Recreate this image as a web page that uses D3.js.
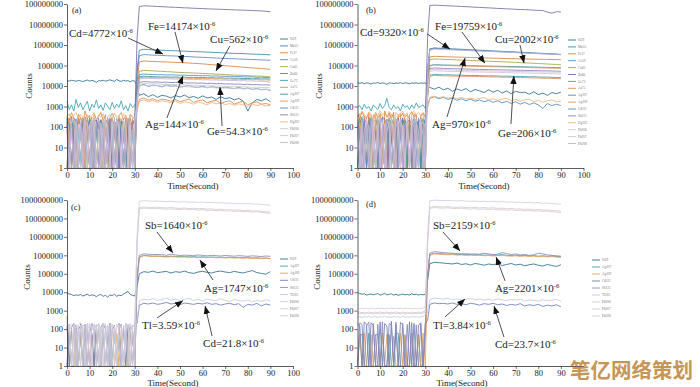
<!DOCTYPE html>
<html>
<head>
<meta charset="utf-8">
<script src="https://cdn.jsdelivr.net/npm/d3@7"></script>
<style>
  body { margin: 0; background: #fff; }
  svg { display: block; }
</style>
</head>
<body>
<div id="chart"></div>
<script>
// sampling times: 1 s during the gas blank, 2 s during ablation
const timeBg = [0,1,2,3,4,5,6,7,8,9,10,11,12,13,14,15,16,17,18,19,20,21,22,23,24,25,26,27,28,29,30];
const timeAb = [31,32,34,36,38,40,42,44,46,48,50,52,54,56,58,60,62,64,66,68,70,72,74,76,78,80,82,84,86,88,90];

const xTicks = [0,10,20,30,40,50,60,70,80,90,100];
const xTicksD = [0,10,20,30,40,50,60,70,80,90];   // "100" is hidden under the watermark in (d)
const yTicksAB = [1,10,100,1000,10000,100000,1000000,10000000,100000000];
const yTicksCD = [1,10,100,1000,10000,100000,1000000,10000000,100000000,1000000000];

const namesAB = ['Si29','Mn55','Fe57','Co59','Cu65','Zn66','Ge72','As75','Ag107','Ag109','Cd111','Sb121','Hg202','Pb206','Pb207','Pb208'];
const namesCD = ['Si29','Ag107','Ag109','Cd111','Sb121','Tl205','Pb206','Pb207','Pb208'];

const colorsAB = ['#2d6f8c','#3d86a6','#d8803f','#4f8fc4','#a3a640','#7a69a6','#3ea1b1','#e08a4c','#3a98a4','#e39a58','#5a88c0','#8a7cb8','#f0b27a','#c9c9d1','#d9bfd6','#bdb6d8'];
const colorsCD = ['#2d6f8c','#3aa3ad','#e8a05a','#6d7db8','#8c86b9','#c5cbd9','#dcc6cc','#d0d0d6','#d4cbe0'];

// panel (a): counts, gas blank
const bgA = [
  [18000,17500,19000,18200,17000,18500,17800,16500,18000,19500,17200,18800,17500,15000,18200,17800,19000,17200,18500,20000,18200,17000,21000,18000,16800,19000,17500,18200,16000,18500,17200],
  [180,1,240,60,1,300,110,1,1,200,90,1,260,1,150,40,1,220,1,130,280,1,70,1,190,1,240,100,1,160,210],
  [90,260,1,140,30,1,200,1,310,80,1,1,170,230,1,60,1,250,120,1,1,210,1,150,50,260,1,90,1,230,140],
  [1,150,320,1,80,210,1,130,1,1,240,160,1,90,270,1,180,1,60,1,230,140,1,280,1,70,1,200,1,120,250],
  [250,80,1,190,1,120,260,1,70,1,180,300,1,1,140,220,1,100,1,270,1,160,60,1,210,1,150,1,280,90,1],
  [130,1,1,270,150,1,90,220,1,160,1,60,1,240,1,190,120,1,280,50,1,1,170,230,1,100,1,260,140,1,190],
  [1800,700,1200,600,2200,900,1500,700,1100,1800,600,1300,900,2100,800,1200,650,1500,1000,700,1600,800,1300,900,1900,700,1100,600,1400,900,1100],
  [350,200,500,280,1,420,300,150,600,250,380,1,450,220,330,520,180,400,1,300,460,260,1,350,500,220,380,150,420,300,250],
  [300,1,160,1,220,90,1,280,1,130,1,200,1,60,190,1,1,240,150,1,90,1,260,1,130,200,1,60,250,1,110],
  [1,220,90,1,1,170,300,1,140,240,1,1,90,1,210,130,1,1,190,1,250,80,1,160,1,1,220,140,1,260,1],
  [200,120,1,60,250,1,1,190,1,100,270,1,140,1,1,230,60,1,200,1,120,1,180,1,240,1,130,1,170,40,1],
  [70,1,230,1,130,1,190,60,1,280,1,150,1,210,100,1,160,1,1,240,1,120,200,1,80,1,270,1,110,180,1],
  [300,450,200,380,500,260,420,320,1,400,280,350,500,220,380,300,450,1,330,400,250,480,300,360,200,420,340,1,380,300,260],
  [1,1,180,250,1,140,1,60,200,1,130,1,290,1,80,1,200,160,1,1,140,1,230,90,1,170,1,1,200,1,270],
  [150,1,90,1,210,1,240,1,110,170,1,230,70,1,1,160,1,260,80,1,200,1,1,140,1,220,90,1,130,1,180],
  [240,60,1,1,160,1,120,1,260,1,1,190,1,150,230,1,90,1,140,1,1,260,1,190,120,1,160,240,1,80,1]
];
// panel (a): counts, ablation
const abA = [
  [9000,3500,4200,3000,3800,2800,3500,3200,2600,3400,2900,3600,2700,3100,2500,3300,2600,2900,2200,3000,2400,2700,2100,2500,1800,600,1500,2200,1900,2400,1700],
  [60000,550000,620000,600000,580000,570000,560000,540000,530000,525000,510000,500000,490000,480000,470000,460000,450000,440000,430000,420000,410000,400000,390000,385000,380000,370000,360000,355000,350000,340000,330000],
  [15000,150000,165000,160000,158000,155000,150000,148000,145000,142000,140000,136000,132000,128000,124000,120000,115000,110000,106000,102000,98000,94000,90000,86000,82000,80000,76000,74000,71000,68000,65000],
  [3000,36000,38000,37000,36500,35500,36000,34500,35000,34000,33500,34000,32500,33000,32000,31500,32000,30500,31000,30000,29500,30000,28500,29000,28000,27500,28000,26500,27000,26000,25500],
  [5000,52000,58000,56000,55000,53000,52000,50000,49000,47000,46000,45000,44000,43000,42000,41000,40000,39000,38000,37000,36000,35000,34000,33500,33000,32000,31000,30500,30000,29000,28000],
  [2e6,7.5e7,8.2e7,8.0e7,7.8e7,7.6e7,7.4e7,7.2e7,7.0e7,6.9e7,6.7e7,6.5e7,6.4e7,6.2e7,6.1e7,6.0e7,5.8e7,5.7e7,5.6e7,5.5e7,5.4e7,5.3e7,5.2e7,5.1e7,5.0e7,4.9e7,4.8e7,4.7e7,4.6e7,4.4e7,4.2e7],
  [3000,10000,12000,9500,11000,10500,9000,11500,9800,10200,8800,9600,10800,9000,8500,9800,8200,9200,8600,7800,9000,8000,7500,8600,7200,8000,6800,7600,6500,7000,6000],
  [800,2200,2600,2000,2400,1900,2300,2100,1800,2200,1700,2000,2300,1600,1900,2100,1500,1800,2000,1400,1700,1900,1300,1600,1800,1200,1500,1700,1300,1400,1200],
  [3000,28000,30000,29000,28500,28000,27500,28000,27000,27500,26500,27000,26000,26500,25500,26000,25000,25500,24500,25000,24000,24500,23500,24000,23000,23500,22500,23000,22000,22500,21500],
  [2800,25000,27000,26500,26000,25500,25000,25500,24500,25000,24000,24500,23500,24000,23000,23500,22500,23000,22000,22500,21500,22000,21000,21500,20500,21000,20000,20500,19500,20000,19000],
  [40000,300000,340000,330000,320000,315000,310000,300000,295000,290000,280000,275000,270000,262000,255000,250000,245000,238000,232000,226000,220000,216000,212000,208000,204000,200000,196000,192000,188000,184000,180000],
  [1500,15000,16500,16000,15500,15800,15000,15400,14600,15000,14200,14600,13800,14200,13600,13900,13200,13500,12800,13200,12500,12800,12200,12500,11800,12200,11500,11800,11200,11500,11000],
  [600,1800,2100,1700,2000,1600,1900,1750,1500,1850,1400,1700,1550,1300,1650,1450,1200,1600,1350,1500,1250,1400,1150,1350,1200,1000,1300,1100,1250,1050,1150],
  [1500,12000,13500,13000,12500,12800,12000,12300,11600,11900,11200,11500,10800,11100,10500,10800,10200,10400,9800,10100,9500,9800,9200,9400,8900,9100,8600,8800,8400,8500,8100],
  [1200,10000,11000,10600,10300,10500,9900,10100,9500,9800,9200,9400,8900,9100,8600,8800,8300,8500,8000,8200,7800,7900,7500,7700,7300,7400,7100,7200,6900,7000,6700],
  [2500,22000,24000,23500,23000,22500,22800,22000,22300,21500,21800,21000,21200,20500,20800,20000,20200,19500,19800,19000,19200,18500,18700,18000,18200,17500,17700,17000,17200,16500,15000]
];

// panel (b)
const bgB = [
  [14000,13500,14500,13000,14200,13800,12500,14000,13600,14800,13200,14100,13500,12000,14300,13700,13000,14000,13400,14600,13100,14200,13800,12800,14000,13500,14400,13300,14100,13600,14200],
  [90,260,1,140,30,1,200,1,310,80,1,1,170,230,1,60,1,250,120,1,1,210,1,150,50,260,1,90,1,230,140],
  [400,250,550,300,1,450,350,200,500,280,400,1,600,300,450,250,520,1,380,300,480,220,1,400,550,300,420,1,350,480,300],
  [1,170,120,1,290,1,1,150,1,220,60,1,180,1,1,270,130,1,1,170,1,230,1,100,1,180,1,60,230,1,140],
  [1,220,90,1,1,170,300,1,140,240,1,1,90,1,210,130,1,1,190,1,250,80,1,160,1,1,220,140,1,260,1],
  [180,1,240,60,1,300,110,1,1,200,90,1,260,1,150,40,1,220,1,130,280,1,70,1,190,1,240,100,1,160,210],
  [900,1100,700,1300,800,1000,600,1200,900,700,1400,800,1100,2500,900,700,1200,800,1000,600,1300,900,1100,700,1200,800,1500,900,1000,1200,800],
  [60,200,1,110,1,260,1,170,230,1,50,1,200,140,1,300,1,80,1,220,160,1,1,120,270,1,180,1,70,1,150],
  [1,150,320,1,80,210,1,130,1,1,240,160,1,90,270,1,180,1,60,1,230,140,1,280,1,70,1,200,1,120,250],
  [300,450,1,350,250,500,1,400,300,1,450,350,200,1,500,300,400,1,350,450,1,300,400,250,1,450,300,1,380,500,1],
  [250,80,1,190,1,120,260,1,70,1,180,300,1,1,140,220,1,100,1,270,1,160,60,1,210,1,150,1,280,90,1],
  [130,1,1,270,150,1,90,220,1,160,1,60,1,240,1,190,120,1,280,50,1,1,170,230,1,100,1,260,140,1,190],
  [500,380,600,420,300,550,450,1,500,350,620,400,480,300,560,420,1,520,380,460,600,340,500,1,450,580,400,520,360,480,420],
  [300,1,160,1,220,90,1,280,1,130,1,200,1,60,190,1,1,240,150,1,90,1,260,1,130,200,1,60,250,1,110],
  [200,120,1,60,250,1,1,190,1,100,270,1,140,1,1,230,60,1,200,1,120,1,180,1,240,1,130,1,170,40,1],
  [70,1,230,1,130,1,190,60,1,280,1,150,1,210,100,1,160,1,1,240,1,120,200,1,80,1,270,1,110,180,1]
];
const abB = [
  [10000,8500,7000,8800,6500,7800,5500,7200,6000,7500,5200,6800,5800,4800,6500,5000,6200,4500,5800,4200,5500,4800,5000,4000,5200,3800,4500,3500,4800,4200,5000],
  [60000,650000,720000,700000,680000,665000,650000,635000,620000,605000,590000,575000,560000,545000,530000,515000,500000,490000,480000,470000,455000,445000,435000,425000,410000,400000,390000,380000,370000,360000,350000],
  [30000,260000,280000,275000,270000,265000,262000,258000,255000,250000,246000,242000,238000,235000,232000,228000,225000,222000,219000,216000,213000,210000,208000,206000,204000,202000,200000,198000,196000,194000,192000],
  [1000,2500,3000,2400,2800,2200,2600,2000,2400,1900,2300,1800,2100,1700,2000,1600,1900,1500,1800,1400,1700,1300,1600,1250,1500,1200,800,1400,1100,1300,1100],
  [20000,190000,210000,205000,200000,196000,192000,188000,184000,180000,176000,172000,168000,165000,162000,158000,155000,152000,148000,145000,142000,138000,135000,132000,128000,125000,122000,118000,115000,112000,108000],
  [2e6,8.5e7,8.8e7,8.6e7,8.4e7,8.2e7,8.0e7,7.8e7,7.6e7,7.4e7,7.2e7,7.0e7,6.8e7,6.6e7,6.5e7,6.3e7,6.1e7,6.0e7,5.8e7,5.7e7,5.5e7,5.4e7,5.3e7,5.2e7,5.0e7,4.9e7,4.8e7,4.0e7,3.6e7,4.2e7,4.1e7],
  [3000,34000,37000,36000,35000,35500,34500,34000,33500,33000,32500,33000,32000,31500,31000,31500,30500,30000,30500,29500,29000,29500,28500,28000,28500,27500,27000,27500,26500,26000,25500],
  [2800,30000,33000,32000,31500,31000,30500,30800,30000,29500,29800,29000,28500,28800,28000,27500,27800,27000,26500,26800,26000,25500,25800,25000,24500,24800,24000,23500,23800,23000,22500],
  [12000,100000,110000,108000,106000,105000,104000,102000,101000,100000,99000,97000,96000,95000,94000,93000,92000,91000,90000,89000,88000,87000,86000,85000,84000,83000,82000,81000,80000,79000,78000],
  [11000,95000,104000,102000,100000,99000,98000,96000,95000,94000,93000,91000,90000,89000,88000,87000,86000,85000,84000,83000,82000,81000,80000,79000,78000,77000,76000,75000,74000,73000,72000],
  [55000,600000,680000,660000,650000,630000,615000,600000,585000,570000,555000,540000,525000,512000,500000,488000,476000,465000,455000,445000,435000,425000,415000,405000,395000,386000,378000,370000,362000,355000,340000],
  [7000,70000,76000,74000,72000,71000,70000,69000,68000,67000,66000,65000,64500,64000,63000,62500,62000,61000,60500,60000,59000,58500,58000,57000,56500,56000,55000,54500,54000,53000,52000],
  [800,2800,3200,2700,3000,2500,2900,2400,2800,2300,2600,2200,2500,2700,2100,2400,2000,2300,2500,1900,2200,1800,2100,2300,1700,2000,1600,1900,2100,1700,1800],
  [6000,60000,65000,63000,62000,61000,60000,59000,58500,58000,57000,56500,56000,55000,54500,54000,53500,53000,52500,52000,51500,51000,50500,50000,49500,49000,48500,48000,47500,47000,46500],
  [5000,52000,56000,54000,53000,52000,51500,51000,50000,49500,49000,48500,48000,47500,47000,46500,46000,45500,45000,44500,44000,43500,43000,42500,42000,41500,41000,40500,40000,39500,39000],
  [50000,560000,620000,610000,600000,590000,575000,560000,550000,540000,525000,515000,505000,495000,485000,475000,465000,455000,445000,435000,425000,415000,405000,395000,390000,380000,370000,360000,355000,345000,335000]
];

// panel (c)
const bgC = [
  [9000,8000,7500,6500,7200,6800,7500,6200,7000,7800,6500,7200,6800,5800,7000,7500,6000,6800,5500,7200,6500,7800,6000,7000,6500,8000,9500,11000,7500,6800,6200],
  [1,60,1,1,80,1,40,1,90,1,1,50,1,70,1,1,100,1,40,1,1,80,1,60,1,1,90,1,1,50,1],
  [500,1,80,1,120,1,60,1,1,100,1,40,1,90,1,1,70,1,1,120,1,1,60,1,90,1,1,100,1,60,1],
  [150,1,120,200,1,90,150,1,180,1,130,60,1,170,1,120,200,1,140,1,90,160,1,200,1,130,1,170,80,1,200],
  [1,180,1,100,160,1,200,80,1,150,1,200,120,1,160,1,90,170,1,210,1,140,1,120,180,1,200,1,150,90,1],
  [120,150,1,200,130,100,1,170,140,1,200,90,150,1,180,120,1,160,100,1,190,130,1,150,110,1,180,140,1,170,120],
  [200,80,150,1,180,120,160,1,140,190,1,150,100,170,1,130,190,1,120,160,140,1,180,100,1,160,120,190,1,140,180],
  [100,170,1,140,90,1,150,120,1,180,100,1,160,130,1,110,150,1,170,90,1,140,1,160,120,1,150,1,180,110,1],
  [250,120,200,150,1,180,220,130,1,200,160,1,190,120,210,1,170,200,1,150,180,120,1,210,160,1,190,130,200,1,170]
];
const abC = [
  [20000,100000,130000,120000,140000,115000,125000,135000,110000,130000,120000,140000,115000,105000,125000,135000,120000,110000,130000,140000,125000,115000,135000,120000,110000,130000,150000,115000,105000,95000,130000],
  [50000,800000,1000000,950000,900000,920000,880000,850000,900000,870000,840000,860000,820000,850000,800000,830000,790000,810000,780000,800000,760000,790000,750000,770000,740000,760000,720000,740000,700000,720000,680000],
  [45000,750000,950000,900000,860000,880000,840000,810000,850000,820000,800000,820000,780000,800000,760000,790000,750000,770000,740000,760000,720000,750000,710000,730000,700000,720000,680000,700000,660000,680000,640000],
  [200,2000,2500,2300,2600,2200,2400,2800,2300,2500,2100,2600,2400,2200,2500,2300,2700,2200,2400,2000,2300,2500,2100,2400,1500,2200,2000,2500,1800,2300,2000],
  [60000,1.0e6,1.2e6,1.15e6,1.1e6,1.12e6,1.08e6,1.0e6,1.15e6,1.05e6,9.8e5,1.02e6,1.0e6,9.6e5,1.05e6,9.9e5,9.4e5,1.0e6,9.6e5,9.2e5,9.8e5,9.4e5,9.0e5,9.6e5,9.2e5,8.8e5,9.4e5,9.0e5,8.6e5,9.2e5,8.8e5],
  [250,3500,4200,3800,4500,3600,4000,4800,3700,4300,3500,4100,4600,3600,4000,3400,4200,3800,3500,4400,3600,3200,4000,3500,3300,3800,3000,3600,3200,3900,3400],
  [5e6,3.8e8,4.2e8,4.0e8,3.9e8,4.1e8,3.8e8,3.7e8,3.9e8,3.6e8,3.5e8,3.7e8,3.4e8,3.6e8,3.3e8,3.5e8,3.2e8,3.3e8,3.0e8,3.2e8,2.9e8,3.0e8,2.8e8,2.9e8,2.6e8,2.8e8,2.5e8,2.6e8,2.4e8,2.3e8,2.2e8],
  [4e6,3.3e8,3.6e8,3.5e8,3.4e8,3.5e8,3.3e8,3.2e8,3.3e8,3.1e8,3.0e8,3.2e8,2.9e8,3.1e8,2.8e8,3.0e8,2.7e8,2.8e8,2.6e8,2.7e8,2.5e8,2.6e8,2.4e8,2.5e8,2.3e8,2.4e8,2.2e8,2.3e8,2.1e8,2.0e8,1.9e8],
  [1e7,8.5e8,9.0e8,8.8e8,8.6e8,8.8e8,8.4e8,8.2e8,8.5e8,8.0e8,7.8e8,8.1e8,7.6e8,7.9e8,7.4e8,7.7e8,7.2e8,7.4e8,6.9e8,7.2e8,6.7e8,6.9e8,6.4e8,6.6e8,6.2e8,6.4e8,6.0e8,6.1e8,5.7e8,5.5e8,5.2e8]
];

// panel (d)
const bgD = [
  [9500,8500,7800,8200,7000,7600,8000,7200,7800,8400,7000,7500,8800,7200,7600,8200,7000,7800,6800,7400,8000,7200,7600,7000,8200,7400,7800,7000,7600,7200,7800],
  [1,50,50,1,1,60,1,1,50,50,1,60,1,1,50,1,1,60,60,1,1,50,1,1,60,1,1,50,1,1,40],
  [1,40,1,60,1,1,50,1,40,1,1,60,1,50,1,1,40,1,1,60,1,40,1,1,50,1,1,40,1,60,1],
  [200,150,1,250,180,1,220,160,1,1,240,1,200,150,1,260,1,180,1,230,170,1,1,250,1,200,1,160,220,1,200],
  [1,220,180,1,150,240,1,200,1,180,1,250,1,1,200,160,1,240,1,1,210,1,180,1,230,1,170,1,200,1,180],
  [450,480,420,470,440,500,430,460,480,420,470,450,500,440,460,430,480,450,470,420,490,440,460,430,480,450,470,440,460,500,600],
  [800,850,780,820,760,840,800,770,830,790,860,780,810,840,770,820,790,850,800,780,830,790,820,760,840,800,780,830,790,860,1000],
  [700,680,720,660,710,690,730,670,700,720,680,710,690,740,670,700,720,680,710,690,730,670,700,720,680,710,690,720,700,740,850],
  [1300,1250,1350,1280,1320,1260,1380,1300,1270,1340,1290,1350,1260,1320,1300,1370,1280,1330,1290,1350,1270,1310,1360,1280,1320,1300,1340,1270,1330,1380,1600]
];
const abD = [
  [40000,350000,420000,400000,380000,360000,340000,380000,320000,350000,300000,360000,330000,290000,340000,310000,350000,280000,320000,360000,300000,330000,270000,310000,340000,290000,260000,320000,280000,250000,310000],
  [80000,1.1e6,1.3e6,1.25e6,1.2e6,1.15e6,1.18e6,1.1e6,1.12e6,1.08e6,1.1e6,1.05e6,1.08e6,1.02e6,1.05e6,1.0e6,1.03e6,1.1e6,1.0e6,9.8e5,1.02e6,9.5e5,1.0e6,9.3e5,9.7e5,9.0e5,9.5e5,8.8e5,9.2e5,8.6e5,8.4e5],
  [75000,1.0e6,1.2e6,1.15e6,1.1e6,1.08e6,1.1e6,1.03e6,1.05e6,1.0e6,1.02e6,9.8e5,1.0e6,9.5e5,9.8e5,9.3e5,9.6e5,1.0e6,9.3e5,9.0e5,9.4e5,8.8e5,9.2e5,8.6e5,9.0e5,8.4e5,8.8e5,8.2e5,8.6e5,8.0e5,7.8e5],
  [300,2200,2600,2400,2500,2300,2600,2200,2400,2100,2500,2300,2000,2400,2200,2500,2100,2300,1900,2200,2000,2400,1800,2100,1900,2200,1700,2000,1800,2100,1600],
  [90000,1.3e6,1.6e6,1.5e6,1.4e6,1.35e6,1.3e6,1.25e6,1.2e6,1.22e6,1.18e6,1.2e6,1.15e6,1.3e6,1.2e6,1.1e6,1.15e6,1.4e6,1.25e6,1.1e6,1.2e6,1.05e6,1.1e6,1.0e6,1.08e6,1.3e6,1.2e6,1.05e6,1.0e6,9.5e5,9.0e5],
  [800,4000,4800,4500,4200,4600,4000,4400,3800,4200,4600,3900,4300,3700,4100,3600,4400,3800,3500,4000,3700,4200,3400,3800,3600,3300,3900,3500,3700,4100,3200],
  [5e6,4.0e8,4.5e8,4.3e8,4.2e8,4.4e8,4.1e8,4.0e8,4.2e8,3.9e8,3.8e8,4.0e8,3.7e8,3.9e8,3.6e8,3.8e8,3.5e8,3.6e8,3.3e8,3.5e8,3.2e8,3.3e8,3.1e8,3.2e8,2.9e8,3.1e8,2.8e8,2.9e8,2.7e8,2.6e8,2.5e8],
  [4e6,3.5e8,3.9e8,3.7e8,3.6e8,3.8e8,3.5e8,3.4e8,3.6e8,3.3e8,3.2e8,3.4e8,3.1e8,3.3e8,3.0e8,3.2e8,2.9e8,3.0e8,2.8e8,2.9e8,2.7e8,2.8e8,2.6e8,2.7e8,2.5e8,2.6e8,2.4e8,2.5e8,2.3e8,2.2e8,2.1e8],
  [1e7,9.0e8,9.8e8,9.5e8,9.3e8,9.5e8,9.1e8,8.9e8,9.2e8,8.7e8,8.5e8,8.8e8,8.3e8,8.6e8,8.1e8,8.4e8,7.9e8,8.2e8,7.6e8,7.9e8,7.4e8,7.7e8,7.2e8,7.4e8,6.9e8,7.2e8,6.6e8,6.9e8,6.4e8,6.2e8,5.8e8]
];

// annotations in data space: text anchor, arrow start, arrow tip
const notesA = [
  { label: 'Cd=4772', at: [0.9, 2.45e6], from: [27, 2.2e6], to: [42.5, 3.6e5] },
  { label: 'Fe=14174', at: [35.8, 5.4e6], from: [47.8, 4.3e6], to: [51.3, 1.3e5] },
  { label: 'Cu=562', at: [63.3, 1.3e6], from: [72.1, 9e5], to: [65.9, 5.4e4] },
  { label: 'Ag=144', at: [34.5, 90], from: [44.2, 275], to: [51.3, 3.1e4] },
  { label: 'Ge=54.3', at: [61.9, 42], from: [68.6, 112], to: [67.7, 8.9e3] }
];
const notesB = [
  { label: 'Cd=9320', at: [1.1, 2.75e6], from: [30.8, 3.5e6], to: [40.9, 6.3e5] },
  { label: 'Fe=19759', at: [34.3, 5.4e6], from: [46.2, 4.3e6], to: [56.4, 1.3e5] },
  { label: 'Cu=2002', at: [60.8, 1.3e6], from: [71.9, 1e6], to: [73.7, 1.3e5] },
  { label: 'Ag=970', at: [33, 85], from: [39.6, 310], to: [47.6, 2.3e5] },
  { label: 'Ge=206', at: [62.2, 34], from: [67.9, 140], to: [69.2, 3.1e4] }
];
const notesC = [
  { label: 'Sb=1640', at: [34.5, 2.7e7], from: [39.8, 1.85e7], to: [46.9, 1.35e6] },
  { label: 'Ag=1747', at: [60.6, 1.0e4], from: [64.6, 4.6e4], to: [58.8, 5.6e5] },
  { label: 'Tl=3.59', at: [33.2, 100], from: [39.8, 400], to: [51.3, 3500] },
  { label: 'Cd=21.8', at: [60.2, 10.7], from: [64.2, 42], to: [61.1, 1800] }
];
const notesD = [
  { label: 'Sb=2159', at: [33.4, 2.7e7], from: [37.8, 1.85e7], to: [45.4, 1.7e6] },
  { label: 'Ag=2201', at: [60.8, 1.0e4], from: [65.3, 4.1e4], to: [61.3, 8.1e5] },
  { label: 'Tl=3.84', at: [33.4, 100], from: [38.7, 455], to: [47.6, 4.3e3] },
  { label: 'Cd=23.7', at: [60.8, 9.5], from: [64.8, 37], to: [60.4, 1.8e3] }
];

const W = 700, H = 387;
const SERIF = '"Liberation Serif", "Times New Roman", serif';

const svg = d3.select('#chart')
  .append('svg')
  .attr('width', W)
  .attr('height', H)
  .attr('viewBox', `0 0 ${W} ${H}`);

svg.append('defs').append('marker')
  .attr('id', 'arrow')
  .attr('viewBox', '0 0 10 10')
  .attr('refX', 10)
  .attr('refY', 5)
  .attr('markerWidth', 8)
  .attr('markerHeight', 8)
  .attr('markerUnits', 'userSpaceOnUse')
  .attr('orient', 'auto')
  .append('path')
  .attr('d', 'M0,1 L10,5 L0,9 z')
  .attr('fill', '#111');

const panels = [
  { tag: '(a)', xRange: [67, 293], yRange: [168, 4], xTicks: xTicks, yTicks: yTicksAB, names: namesAB, colors: colorsAB,
    bg: bgA, ab: abA, notes: notesA, legend: [280, 39, 6.9], counts: [32, 86], timeLabel: [193, 188.5], tagPos: [72, 13] },
  { tag: '(b)', xRange: [357.5, 583.5], yRange: [168, 4], xTicks: xTicks, yTicks: yTicksAB, names: namesAB, colors: colorsAB,
    bg: bgB, ab: abB, notes: notesB, legend: [568, 40, 6.9], counts: [322, 86], timeLabel: [484, 188.5], tagPos: [366, 13] },
  { tag: '(c)', xRange: [67, 293], yRange: [366, 200], xTicks: xTicks, yTicks: yTicksCD, names: namesCD, colors: colorsCD,
    bg: bgC, ab: abC, notes: notesC, legend: [280, 259, 7.1], counts: [30, 277], timeLabel: [173, 386], tagPos: [71, 210] },
  { tag: '(d)', xRange: [357.5, 583.5], yRange: [366, 200], xTicks: xTicksD, yTicks: yTicksCD, names: namesCD, colors: colorsCD,
    bg: bgD, ab: abD, notes: notesD, legend: [592, 260, 7.0], counts: [320, 277], timeLabel: [462, 386], tagPos: [366, 207] }
];

panels.forEach(p => drawPanel(p));

function drawPanel(p) {
  const yMax = p.yTicks[p.yTicks.length - 1];
  const x = d3.scaleLinear().domain([0, 100]).range(p.xRange);
  const y = d3.scaleLog().domain([1, yMax]).range(p.yRange).clamp(true);
  const times = timeBg.concat(timeAb);

  const g = svg.append('g');

  // signal traces
  const line = d3.line()
    .x((d, i) => x(times[i]))
    .y(d => y(d));

  p.names.forEach((name, i) => {
    const vals = p.bg[i].concat(p.ab[i]);
    if (vals.length !== times.length) console.error(`${p.tag} ${name}: ${vals.length} values`);
    g.append('path')
      .datum(vals)
      .attr('d', line)
      .attr('fill', 'none')
      .attr('stroke', p.colors[i])
      .attr('stroke-width', 0.85)
      .attr('stroke-linejoin', 'round');
  });

  // axes
  const yAxis = g.append('g')
    .attr('transform', `translate(${p.xRange[0]},0)`)
    .call(d3.axisLeft(y).tickValues(p.yTicks).tickFormat(d3.format('d')).tickSize(3).tickSizeOuter(0));

  const xAxis = g.append('g')
    .attr('transform', `translate(0,${p.yRange[0]})`)
    .call(d3.axisBottom(x).tickValues(p.xTicks).tickSize(3).tickSizeOuter(0));

  [yAxis, xAxis].forEach(ax => {
    ax.attr('font-family', SERIF).attr('font-size', 8.5);
    ax.select('.domain').attr('stroke', '#333').attr('stroke-width', 0.8);
    ax.selectAll('.tick line').attr('stroke', '#333').attr('stroke-width', 0.7);
    ax.selectAll('.tick text').attr('fill', '#222');
  });
  yAxis.selectAll('.tick text').attr('x', -4);
  xAxis.selectAll('.tick text').attr('y', 3.5);

  g.append('text')
    .attr('transform', `translate(${p.counts[0]},${p.counts[1]}) rotate(-90)`)
    .attr('text-anchor', 'middle')
    .attr('font-family', SERIF)
    .attr('font-size', 9)
    .attr('fill', '#222')
    .text('Counts');

  g.append('text')
    .attr('x', p.timeLabel[0])
    .attr('y', p.timeLabel[1])
    .attr('text-anchor', 'middle')
    .attr('font-family', SERIF)
    .attr('font-size', 9)
    .attr('fill', '#222')
    .text('Time(Second)');

  g.append('text')
    .attr('x', p.tagPos[0])
    .attr('y', p.tagPos[1])
    .attr('font-family', SERIF)
    .attr('font-size', 8.5)
    .attr('fill', '#222')
    .text(p.tag);

  // concentration call-outs
  p.notes.forEach(n => {
    g.append('line')
      .attr('x1', x(n.from[0])).attr('y1', y(n.from[1]))
      .attr('x2', x(n.to[0])).attr('y2', y(n.to[1]))
      .attr('stroke', '#222')
      .attr('stroke-width', 0.8)
      .attr('marker-end', 'url(#arrow)');

    const t = g.append('text')
      .attr('x', x(n.at[0]))
      .attr('y', y(n.at[1]))
      .attr('font-family', SERIF)
      .attr('font-size', 11)
      .attr('fill', '#222');
    t.append('tspan').text(n.label + '×10');
    t.append('tspan').attr('dy', -4).attr('font-size', 6.5).text('-6');
  });

  // legend
  const [lx, ly, step] = p.legend;
  const legend = g.append('g');
  p.names.forEach((name, i) => {
    legend.append('line')
      .attr('x1', lx).attr('x2', lx + 8)
      .attr('y1', ly + i * step).attr('y2', ly + i * step)
      .attr('stroke', p.colors[i])
      .attr('stroke-width', 0.9);
    legend.append('text')
      .attr('x', lx + 10)
      .attr('y', ly + i * step)
      .attr('dy', '0.35em')
      .attr('font-family', SERIF)
      .attr('font-size', 3.4)
      .attr('fill', '#777')
      .text(name);
  });
}

// watermark from the source picture
svg.append('text')
  .attr('x', 693)
  .attr('y', 378)
  .attr('text-anchor', 'end')
  .attr('font-family', '"Noto Sans CJK SC", sans-serif')
  .attr('font-weight', 'bold')
  .attr('font-size', 20.5)
  .attr('fill', '#c08a44')
  .attr('opacity', 0.9)
  .text('笔亿网络策划');
</script>
</body>
</html>
